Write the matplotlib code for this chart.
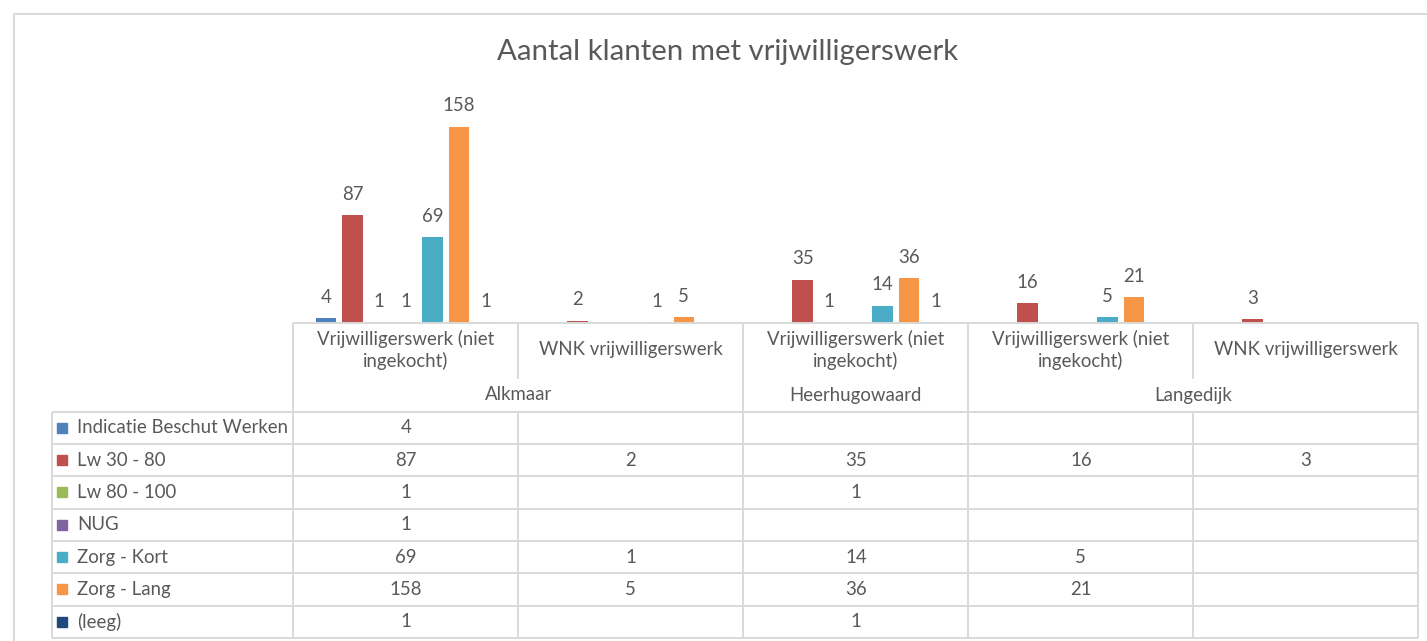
import numpy as np
import matplotlib.pyplot as plt
from matplotlib.patches import Rectangle

plt.rcParams['font.family'] = ['Lato', 'DejaVu Sans']

# data
title = 'Aantal klanten met vrijwilligerswerk'
categories = ['Vrijwilligerswerk (niet\ningekocht)', 'WNK vrijwilligerswerk',
              'Vrijwilligerswerk (niet\ningekocht)',
              'Vrijwilligerswerk (niet\ningekocht)', 'WNK vrijwilligerswerk']
groups = ['Alkmaar', 'Heerhugowaard', 'Langedijk']
group_size = [2, 1, 2]
series = ['Indicatie Beschut Werken', 'Lw 30 - 80', 'Lw 80 - 100', 'NUG',
          'Zorg - Kort', 'Zorg - Lang', '(leeg)']
nan = np.nan
indicatie = [4, nan, nan, nan, nan]
lw_30_80 = [87, 2, 35, 16, 3]
lw_80_100 = [1, nan, 1, nan, nan]
nug = [1, nan, nan, nan, nan]
zorg_kort = [69, 1, 14, 5, nan]
zorg_lang = [158, 5, 36, 21, nan]
leeg = [1, nan, 1, nan, nan]
values = [indicatie, lw_30_80, lw_80_100, nug, zorg_kort, zorg_lang, leeg]
colors = ['#4F81BD', '#C0504D', '#9BBB59', '#8064A2', '#4BACC6', '#F79646', '#1F497D']

W, H = 1427, 641
txt = '#595959'
grid = '#D9D9D9'
fs = 13.4

fig = plt.figure(figsize=(W / 100, H / 100), dpi=100)

# bars
x0, x1 = 293.3, 1418.3
base, top = 323.2, 99.3
ax = fig.add_axes([x0 / W, 1 - base / H, (x1 - x0) / W, (base - top) / H])
ax.set_xlim(-0.5, len(categories) - 0.5)
ax.set_ylim(0, 180)
ax.axis('off')
x = np.arange(len(categories))
slot = 0.118
for i, (vals, c) in enumerate(zip(values, colors)):
    pos = x + (i - 3) * slot
    ax.bar(pos, vals, width=0.091, color=c, zorder=3)
    for p, v in zip(pos, vals):
        if not np.isnan(v):
            ax.annotate('%d' % v, (p, v), xytext=(0, 15), textcoords='offset points',
                        ha='center', va='center', fontsize=fs, color=txt)

# overlay in pixel coords for frame + data table (on top of the bars)
ov = fig.add_axes([0, 0, 1, 1])
ov.set_xlim(0, W)
ov.set_ylim(H, 0)
ov.axis('off')

# chart frame
ov.plot([14, 14, W], [H, 14, 14], color=grid, lw=1.4)
ov.text(728, 52, title, ha='center', va='center', fontsize=21.2, color=txt)

# data table
cw = (x1 - x0) / len(categories)
edges = [x0 + cw * k for k in range(len(categories) + 1)]
tline = 322.5
row_top = 411.7
rh = 32.3
bottom = row_top + rh * len(series)
left = 52
lkw = dict(color=grid, lw=1.4, solid_capstyle='butt')

ov.plot([x0, x1], [tline, tline], **lkw)
for k in range(len(series) + 1):
    y = row_top + rh * k
    ov.plot([left, x1], [y, y], **lkw)
ov.plot([left, left], [row_top, bottom], **lkw)

gb = np.cumsum([0] + group_size)
for k, e in enumerate(edges):
    if k in gb:
        ov.plot([e, e], [tline, bottom], **lkw)
    else:
        ov.plot([e, e], [tline, 379], **lkw)
        ov.plot([e, e], [row_top, bottom], **lkw)

for k, lab in enumerate(categories):
    ov.text((edges[k] + edges[k + 1]) / 2, 350, lab, ha='center', va='center',
            fontsize=fs, color=txt, linespacing=1.25)
for g, lab in enumerate(groups):
    cx = (edges[gb[g]] + edges[gb[g + 1]]) / 2
    ov.text(cx, 395, lab, ha='center', va='center', fontsize=fs, color=txt)

for r, (name, vals, c) in enumerate(zip(series, values, colors)):
    yc = row_top + rh * (r + 0.5)
    ov.add_patch(Rectangle((57, yc - 5), 10, 10, color=c))
    ov.text(77, yc, name, ha='left', va='center', fontsize=fs, color=txt)
    for k, v in enumerate(vals):
        if not np.isnan(v):
            ov.text((edges[k] + edges[k + 1]) / 2, yc, '%d' % v, ha='center',
                    va='center', fontsize=fs, color=txt)

fig.savefig('out.png', dpi=100, facecolor='white')
